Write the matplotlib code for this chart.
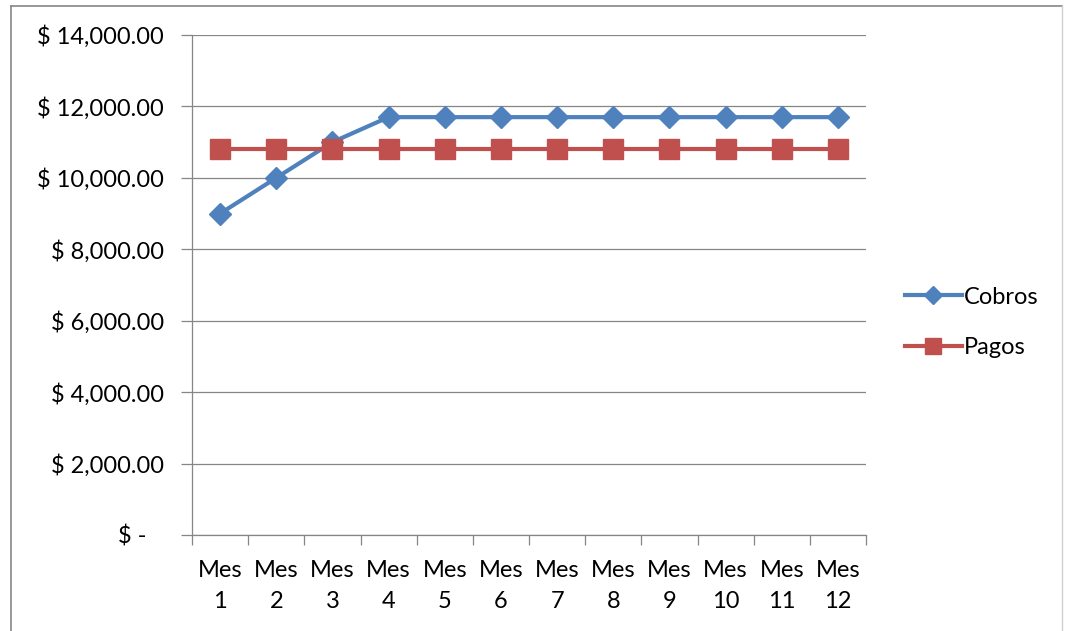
import matplotlib.pyplot as plt
from matplotlib.lines import Line2D

plt.rcParams['font.family'] = ['Lato', 'DejaVu Sans']

meses = ['Mes\n%d' % i for i in range(1, 13)]
cobros = [9000, 10000, 11000, 11700, 11700, 11700, 11700, 11700, 11700, 11700, 11700, 11700]
pagos = [10800] * 12
yticks = [0, 2000, 4000, 6000, 8000, 10000, 12000, 14000]
ylabels = ['$ -   ', '$ 2,000.00', '$ 4,000.00', '$ 6,000.00', '$ 8,000.00',
           '$ 10,000.00', '$ 12,000.00', '$ 14,000.00']

grey = '#868686'
blue = '#4F81BD'
red = '#C0504D'
fs = 17

fig = plt.figure(figsize=(10.65, 6.31), dpi=100)
# outer chart border
fig.add_artist(Line2D([11/1065, 11/1065], [0, 1 - 6/631], color=grey, lw=1.2))
fig.add_artist(Line2D([11/1065, 1062/1065], [1 - 6/631, 1 - 6/631], color=grey, lw=1.2))
fig.add_artist(Line2D([1062/1065, 1062/1065], [0, 1 - 6/631], color='#d0d0d0', lw=1.0))

ax = fig.add_axes([192/1065, 1 - 535/631, (866 - 192)/1065, (535 - 35)/631])
x = list(range(12))
ax.plot(x, cobros, color=blue, lw=3, marker='D', markersize=11, label='Cobros', zorder=3)
ax.plot(x, pagos, color=red, lw=3, marker='s', markersize=14, label='Pagos', zorder=4)

ax.set_xlim(-0.5, 11.5)
ax.set_ylim(0, 14000)
ax.set_yticks(yticks)
ax.set_yticklabels(ylabels)
ax.yaxis.grid(True, color=grey, lw=0.9)
ax.set_axisbelow(True)

ax.set_xticks([i - 0.5 for i in range(13)])
ax.set_xticklabels([])
ax.set_xticks(x, minor=True)
ax.set_xticklabels(meses, minor=True, fontsize=fs, linespacing=1.6)
ax.tick_params(axis='x', which='major', length=7, color=grey, width=0.9, direction='out')
ax.tick_params(axis='x', which='minor', length=0, pad=18)
ax.tick_params(axis='y', length=8, color=grey, width=0.9, direction='out', labelsize=fs, pad=12)

for s in ['top', 'right']:
    ax.spines[s].set_visible(False)
for s in ['left', 'bottom']:
    ax.spines[s].set_color(grey)
    ax.spines[s].set_linewidth(0.9)

leg = ax.legend(loc='center left', bbox_to_anchor=(1.058, 0.425), frameon=False,
                fontsize=fs, handlelength=2.4, handletextpad=0.1, labelspacing=1.25,
                borderaxespad=0, borderpad=0)
for h in leg.legend_handles:
    h.set_markersize(h.get_markersize() * 0.85)

fig.savefig('out.png', dpi=100)
